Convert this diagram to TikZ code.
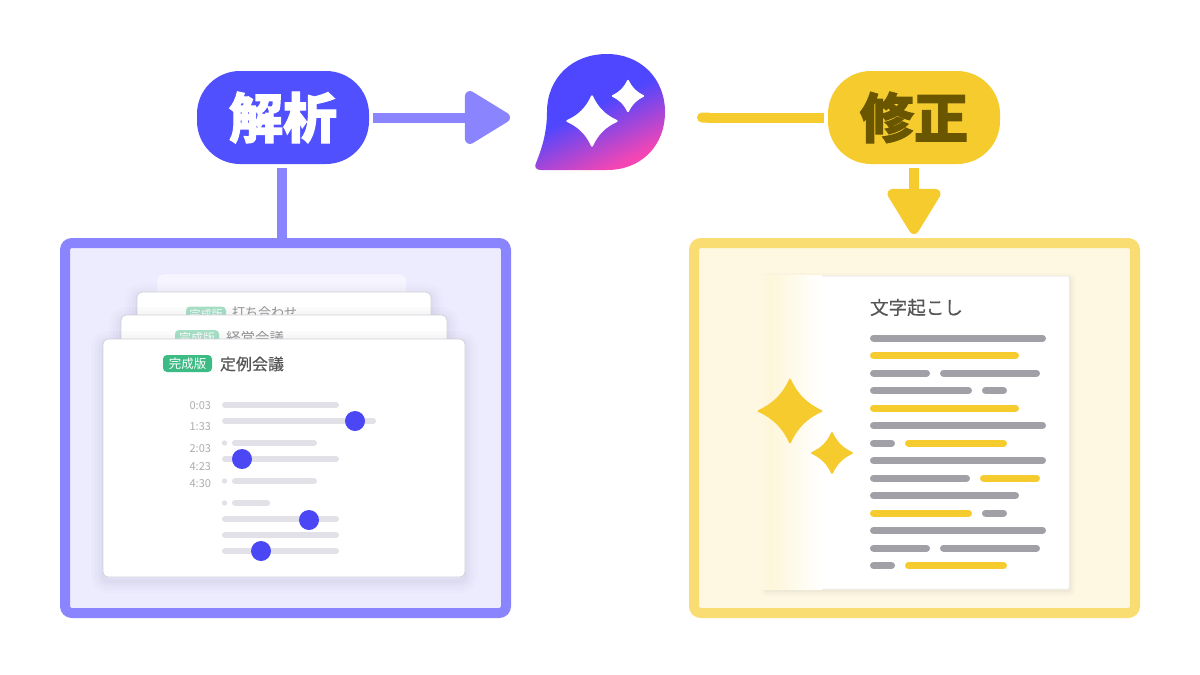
\documentclass[tikz,border=0pt]{standalone}
\usepackage{fontspec}
\setmainfont{Noto Sans CJK JP}
\newfontfamily\medfont[FakeBold=0.4]{Noto Sans CJK JP}
\newfontfamily\heavyfont[BoldFeatures={FakeBold=2}]{Noto Sans CJK JP}
\usetikzlibrary{arrows.meta, positioning, calc}

\definecolor{parseblue}{HTML}{5050FF}
\definecolor{parseline}{HTML}{8A85FF}
\definecolor{parsebg}{HTML}{EDECFF}
\definecolor{fixyellow}{HTML}{F5CB2E}
\definecolor{fixline}{HTML}{F9DC72}
\definecolor{fixbg}{HTML}{FEF8E2}
\definecolor{fixtext}{HTML}{6B5600}
\definecolor{handle}{HTML}{4B47F5}
\definecolor{barlight}{HTML}{E1E1E7}
\definecolor{bargray}{HTML}{A0A0A6}
\definecolor{badge}{HTML}{3DBB85}
\definecolor{badgepale}{HTML}{A7E0C6}
\definecolor{cardline}{HTML}{D2D2DC}
\definecolor{inktext}{HTML}{555555}
\definecolor{bubblepink}{HTML}{F346B4}
\definecolor{bubbleblue}{HTML}{4F46FF}
\definecolor{shadowtint}{HTML}{30305A}

\pgfdeclareverticalshading{bubblefill}{100bp}{color(0bp)=(bubblepink); color(27bp)=(bubblepink); color(53bp)=(bubbleblue); color(100bp)=(bubbleblue)}
\pgfdeclarehorizontalshading{docfade}{100bp}{color(0bp)=(fixbg); color(25bp)=(fixbg); color(35bp)=(fixbg!96!fixyellow); color(75bp)=(white); color(100bp)=(white)}

\begin{document}
\begin{tikzpicture}[
  x=1pt, y=-1pt,
  every node/.style={inner sep=0pt, outer sep=0pt},
  pill/.style={rectangle, rounded corners=43pt, minimum width=172pt, minimum height=93pt},
  panel/.style={rectangle, rounded corners=7pt, line width=10pt, minimum width=441pt, minimum height=370pt},
  softshadow/.style={
    preaction={draw=shadowtint, draw opacity=.014, line width=24pt, transform canvas={yshift=-4pt}},
    preaction={draw=shadowtint, draw opacity=.018, line width=17pt, transform canvas={yshift=-4pt}},
    preaction={draw=shadowtint, draw opacity=.022, line width=10pt, transform canvas={yshift=-4pt}},
    preaction={draw=shadowtint, draw opacity=.026, line width=4pt, transform canvas={yshift=-4pt}}},
  softshadowdoc/.style={
    preaction={draw=shadowtint, draw opacity=.014, line width=10pt, transform canvas={xshift=1pt, yshift=-2pt}},
    preaction={draw=shadowtint, draw opacity=.02, line width=6pt, transform canvas={xshift=1pt, yshift=-2pt}},
    preaction={draw=shadowtint, draw opacity=.03, line width=2pt, transform canvas={xshift=1pt, yshift=-2pt}}},
  card/.style={rectangle, rounded corners=5pt, draw=cardline, fill=white, line width=.8pt, softshadow},
  badgebox/.style={rectangle, rounded corners=4pt, text=white},
  stamp/.style={anchor=east, font=\fontsize{11}{11}\selectfont, text=black!32},
  link/.style={line width=10pt, color=parseline},
  linkfix/.style={line width=10pt, color=fixyellow},
  headtip/.tip={Triangle[length=50pt, width=58pt, line width=10pt, round]},
  bar/.style={line width=6pt, line cap=round, color=barlight},
  grayline/.style={line width=7pt, line cap=round, color=bargray},
  yellowline/.style={line width=7pt, line cap=round, color=fixyellow},
  sparkle/.pic={
    \path[pic actions, line width=2pt, line join=round]
      (0,-.95) .. controls (.2,-.5) and (.5,-.2) .. (.95,0)
      .. controls (.5,.2) and (.2,.5) .. (0,.95)
      .. controls (-.2,.5) and (-.5,.2) .. (-.95,0)
      .. controls (-.5,-.2) and (-.2,-.5) .. (0,-.95) -- cycle;
  },
]
  \useasboundingbox (0,0) rectangle (1200,675);

  % top row
  \node[pill, fill=parseblue, text=white, font=\heavyfont\bfseries\fontsize{54}{54}\selectfont] (parse) at (283,117.5) {解析};
  \node[pill, fill=fixyellow, text=fixtext, font=\heavyfont\bfseries\fontsize{54}{54}\selectfont] (fix) at (914,117.5) {修正};
  \node[minimum width=120pt, minimum height=116pt] (bubble) at (605,112) {};

  \path[shading=bubblefill, shading angle=25]
    (547,112) .. controls (547,78) and (572,54) .. (607,54)
    .. controls (640,54) and (665,78) .. (665,112)
    .. controls (665,146) and (641,170) .. (607,170)
    -- (541,170) .. controls (536,170) and (534,167) .. (536,163)
    .. controls (543,146) and (547,130) .. (547,112) -- cycle;
  \pic[scale=26, fill=white, draw=white] at (592,121) {sparkle};
  \pic[scale=16, fill=white, draw=white] at (628,96) {sparkle};

  % panels
  \node[panel, draw=parseline, fill=parsebg] (panelL) at (285.5,428) {};
  \node[panel, draw=fixline, fill=fixbg] (panelR) at (914.5,428) {};

  % connectors
  \draw[link, shorten <=4pt, shorten >=35pt, -{headtip}] (parse.east) -- (parse.east -| bubble.west);
  \draw[link, shorten <=4pt] ([xshift=-1pt]parse.south) -- ([xshift=-1pt]parse.south |- panelL.north);
  \draw[linkfix, shorten <=32pt, shorten >=4pt, {Round Cap[]}-] (bubble.east |- fix.west) -- (fix.west);
  \draw[linkfix, shorten <=4pt, shorten >=9pt, -{headtip}] (fix.south) -- (fix.south |- panelR.north);

  % stacked cards
  \node[rectangle, rounded corners=5pt, draw=parsebg!80!cardline, fill=parsebg!50!white, minimum width=249pt, minimum height=40pt] (cardA) at (281.5,294) {};

  \node[card, minimum width=294pt, minimum height=60pt] (cardB) at (284,322) {};
  \node[badgebox, fill=badgepale, minimum width=40pt, minimum height=15pt, font=\fontsize{11}{11}\selectfont] (badgeB) at (206,314) {完成版};
  \node[anchor=west, text=black!42, font=\fontsize{13}{13}\selectfont] (titleB) at (232,313) {打ち合わせ};

  \node[card, minimum width=326pt, minimum height=60pt] (cardC) at (284,345) {};
  \node[badgebox, fill=badgepale, minimum width=44pt, minimum height=16pt, font=\fontsize{12}{12}\selectfont] (badgeC) at (197,338) {完成版};
  \node[anchor=west, text=black!42, font=\fontsize{14.5}{14.5}\selectfont] (titleC) at (226,338) {経営会議};

  \node[card, minimum width=362pt, minimum height=238pt] (cardD) at (284,458) {};
  \node[badgebox, fill=badge, minimum width=49pt, minimum height=17pt, font=\fontsize{12.5}{12.5}\selectfont] (badgeD) at (187.5,363.5) {完成版};
  \node[anchor=west, text=inktext, font=\medfont\fontsize{16}{16}\selectfont] (titleD) at (220,364) {定例会議};

  % time stamps
  \node[stamp] (timeA) at (211,406) {0:03};
  \node[stamp] (timeB) at (211,427) {1:33};
  \node[stamp] (timeC) at (211,449) {2:03};
  \node[stamp] (timeD) at (211,466.5) {4:23};
  \node[stamp] (timeE) at (211,484) {4:30};

  % transcript bars
  \draw[bar] (225,405) -- (336,405);
  \draw[bar] (225,421) -- (373,421);
  \draw[bar] (235,443) -- (314,443);
  \draw[bar] (225,459) -- (336,459);
  \draw[bar] (235,481) -- (314,481);
  \draw[bar] (235,503) -- (267,503);
  \draw[bar] (225,519) -- (336,519);
  \draw[bar] (225,535) -- (336,535);
  \draw[bar] (225,551) -- (336,551);
  \fill[barlight] (224.5,443) circle (2.7);
  \fill[barlight] (224.5,481) circle (2.7);
  \fill[barlight] (224.5,503) circle (2.7);
  \fill[handle] (355,421) circle (10);
  \fill[handle] (242,459) circle (10);
  \fill[handle] (309,520) circle (10);
  \fill[handle] (261,551) circle (10);

  % document
  \node[rectangle, rounded corners=2pt, fill=white, draw=cardline!60, line width=.5pt, minimum width=305pt, minimum height=313pt, softshadowdoc] (doc) at (917,432.5) {};
  \path[shading=docfade] (758,275.5) rectangle (822,589.5);
  \pic[scale=33, fill=fixyellow, draw=fixyellow] at (790,411) {sparkle};
  \pic[scale=21, fill=fixyellow, draw=fixyellow] at (832,453) {sparkle};
  \node[anchor=west, text=inktext, font=\medfont\fontsize{18.6}{18.6}\selectfont] (titleDoc) at (870,307.5) {文字起こし};

  \draw[grayline] (873.5,338) -- (1042.5,338);
  \draw[yellowline] (873.5,355.5) -- (1015.5,355.5);
  \draw[grayline] (873.5,373) -- (926.5,373);
  \draw[grayline] (943.5,373) -- (1036.5,373);
  \draw[grayline] (873.5,390.5) -- (968.5,390.5);
  \draw[grayline] (985.5,390.5) -- (1003.5,390.5);
  \draw[yellowline] (873.5,408) -- (1015.5,408);
  \draw[grayline] (873.5,425.5) -- (1042.5,425.5);
  \draw[grayline] (873.5,443) -- (891.5,443);
  \draw[yellowline] (908.5,443) -- (1003.5,443);
  \draw[grayline] (873.5,460.5) -- (1042.5,460.5);
  \draw[grayline] (873.5,478) -- (966.5,478);
  \draw[yellowline] (983.5,478) -- (1036.5,478);
  \draw[grayline] (873.5,495.5) -- (1015.5,495.5);
  \draw[yellowline] (873.5,513) -- (968.5,513);
  \draw[grayline] (985.5,513) -- (1003.5,513);
  \draw[grayline] (873.5,530.5) -- (1042.5,530.5);
  \draw[grayline] (873.5,548) -- (926.5,548);
  \draw[grayline] (943.5,548) -- (1036.5,548);
  \draw[grayline] (873.5,565.5) -- (891.5,565.5);
  \draw[yellowline] (908.5,565.5) -- (1003.5,565.5);
\end{tikzpicture}
\end{document}
